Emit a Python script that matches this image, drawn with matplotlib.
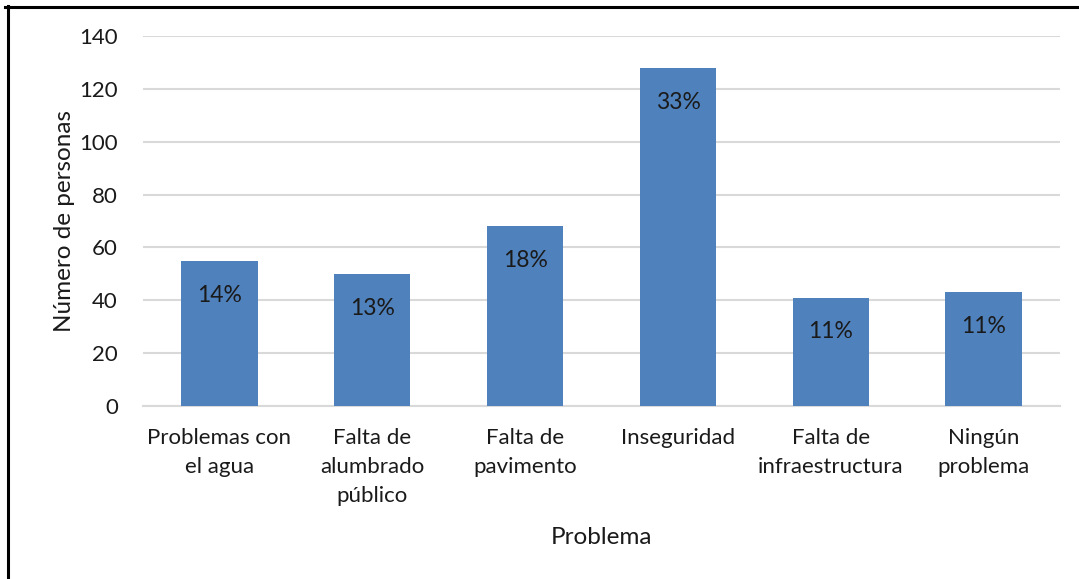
import matplotlib
matplotlib.use("Agg")
import matplotlib.pyplot as plt
from matplotlib.lines import Line2D

plt.rcParams["font.family"] = ["Lato", "DejaVu Sans"]

categories = [
    "Problemas con\nel agua",
    "Falta de\nalumbrado\npúblico",
    "Falta de\npavimento",
    "Inseguridad",
    "Falta de\ninfraestructura",
    "Ningún\nproblema",
]
personas = [55, 50, 68, 128, 41, 43]
porcentajes = ["14%", "13%", "18%", "33%", "11%", "11%"]

fig = plt.figure(figsize=(10.79, 5.79), dpi=100)
ax = fig.add_axes([0.1325, 0.2988, 0.85, 0.639])

x = range(len(categories))
bars = ax.bar(x, personas, width=0.5, color="#4f81bd", zorder=3)

for rect, lab in zip(bars, porcentajes):
    ax.text(
        rect.get_x() + rect.get_width() / 2,
        rect.get_height() - 13,
        lab,
        ha="center",
        va="center",
        fontsize=16.5,
        color="#1a1a1a",
        zorder=4,
    )

ax.set_xlim(-0.5, len(categories) - 0.5)
ax.set_ylim(0, 140)
ax.set_yticks(range(0, 141, 20))
ax.yaxis.grid(True, color="#d9d9d9", linewidth=1.5, zorder=0)
ax.set_axisbelow(True)

for side in ["top", "right", "left"]:
    ax.spines[side].set_visible(False)
ax.spines["bottom"].set_color("#d9d9d9")
ax.spines["bottom"].set_linewidth(1.5)

ax.set_xticks(list(x))
ax.set_xticklabels(categories, fontsize=16, color="#1a1a1a", linespacing=1.55)
ax.tick_params(axis="both", length=0, labelsize=16, colors="#1a1a1a")
ax.tick_params(axis="x", pad=16)
ax.tick_params(axis="y", pad=18)

ax.set_ylabel("Número de personas", fontsize=17.5, color="#1a1a1a", labelpad=3)
ax.set_xlabel("Problema", fontsize=17.5, color="#1a1a1a", labelpad=15)

# marco de la imagen
fig.add_artist(Line2D([5 / 1079, 1.0], [1 - 7 / 579, 1 - 7 / 579],
                      transform=fig.transFigure, color="black", linewidth=2.2))
fig.add_artist(Line2D([8 / 1079, 8 / 1079], [0, 1 - 6 / 579],
                      transform=fig.transFigure, color="black", linewidth=2.2))

fig.savefig("out.png", dpi=100)
